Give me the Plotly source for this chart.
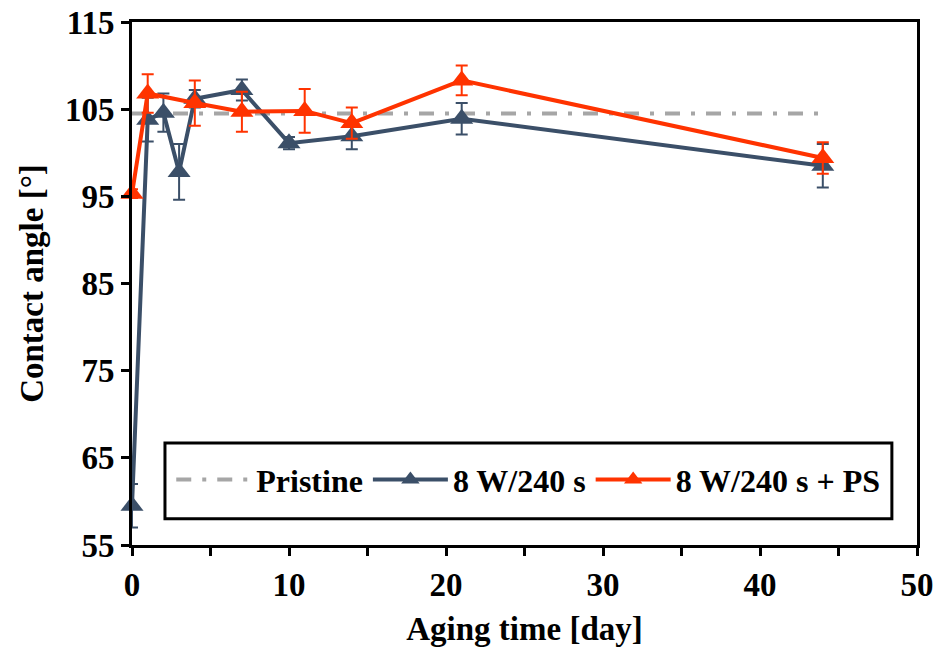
import plotly.graph_objects as go

# ---- data ----
days_plain = [0, 1, 2, 3, 4, 7, 10, 14, 21, 44]
angle_plain = [59.5, 103.8, 104.6, 97.8, 106.2, 107.2, 101.1, 101.9, 103.9, 98.5]
err_plain = [2.5, 2.5, 2.2, 3.2, 1.0, 1.2, 0.7, 1.5, 1.8, 2.5]

days_ps = [0, 1, 4, 7, 11, 14, 21, 44]
angle_ps = [95.3, 106.8, 105.7, 104.7, 104.8, 103.4, 108.3, 99.4]
err_ps = [0.5, 2.2, 2.6, 2.3, 2.5, 1.8, 1.7, 1.8]

pristine_x = [0, 44]
pristine_y = [104.5, 104.5]

names = ["Pristine", "8 W/240 s", "8 W/240 s + PS"]
x_ticks = [0, 10, 20, 30, 40, 50]
y_ticks = [55, 65, 75, 85, 95, 105, 115]

BLUE = "#3B4F68"
RED = "#FF3300"
GRAY = "#A6A6A6"
FONT = "Liberation Serif"

fig = go.Figure()
fig.add_trace(go.Scatter(
    x=pristine_x, y=pristine_y, mode="lines", name=names[0],
    line=dict(color=GRAY, width=4, dash="15px,11px,4px,11px"),
))
fig.add_trace(go.Scatter(
    x=days_plain, y=angle_plain, mode="lines+markers", name=names[1],
    line=dict(color=BLUE, width=4),
    marker=dict(symbol="triangle-up", size=20, color=BLUE),
    error_y=dict(type="data", array=err_plain, color=BLUE, thickness=2, width=6),
    cliponaxis=False,
))
fig.add_trace(go.Scatter(
    x=days_ps, y=angle_ps, mode="lines+markers", name=names[2],
    line=dict(color=RED, width=4),
    marker=dict(symbol="triangle-up", size=20, color=RED),
    error_y=dict(type="data", array=err_ps, color=RED, thickness=2, width=6),
    cliponaxis=False,
))

axis_common = dict(
    showline=True, linecolor="black", linewidth=3, mirror=True,
    ticks="outside", ticklen=8, tickwidth=3, tickcolor="black",
    showgrid=False, zeroline=False, automargin=False,
    tickfont=dict(family=FONT, size=33, color="black", weight="bold"),
)

fig.update_xaxes(
    range=[0, 50], tickvals=x_ticks, ticktext=[str(v) for v in x_ticks],
    minor=dict(dtick=5, ticks="outside", ticklen=8, tickwidth=3, tickcolor="black"),
    title=dict(text="Aging time [day]", standoff=16,
               font=dict(family=FONT, size=33, color="black", weight="bold")),
    **axis_common,
)
fig.update_yaxes(
    range=[55, 115], tickvals=y_ticks, ticktext=[str(v) for v in y_ticks],
    title=dict(text="Contact angle [°]", standoff=12,
               font=dict(family=FONT, size=33, color="black", weight="bold")),
    **axis_common,
)

fig.add_shape(type="rect", xref="paper", yref="paper",
              x0=0.042, x1=0.968, y0=0.05, y1=0.195,
              line=dict(color="black", width=3), fillcolor="rgba(0,0,0,0)")

fig.update_layout(
    width=939, height=651,
    margin=dict(l=132, r=22, t=22, b=106),
    plot_bgcolor="white", paper_bgcolor="white",
    showlegend=True,
    legend=dict(
        orientation="h", x=0.05, y=0.125, xanchor="left", yanchor="middle",
        bgcolor="rgba(0,0,0,0)", borderwidth=0,
        font=dict(family=FONT, size=32, color="black", weight="bold"),
        itemwidth=75,
    ),
)

fig.write_html("out.html")
